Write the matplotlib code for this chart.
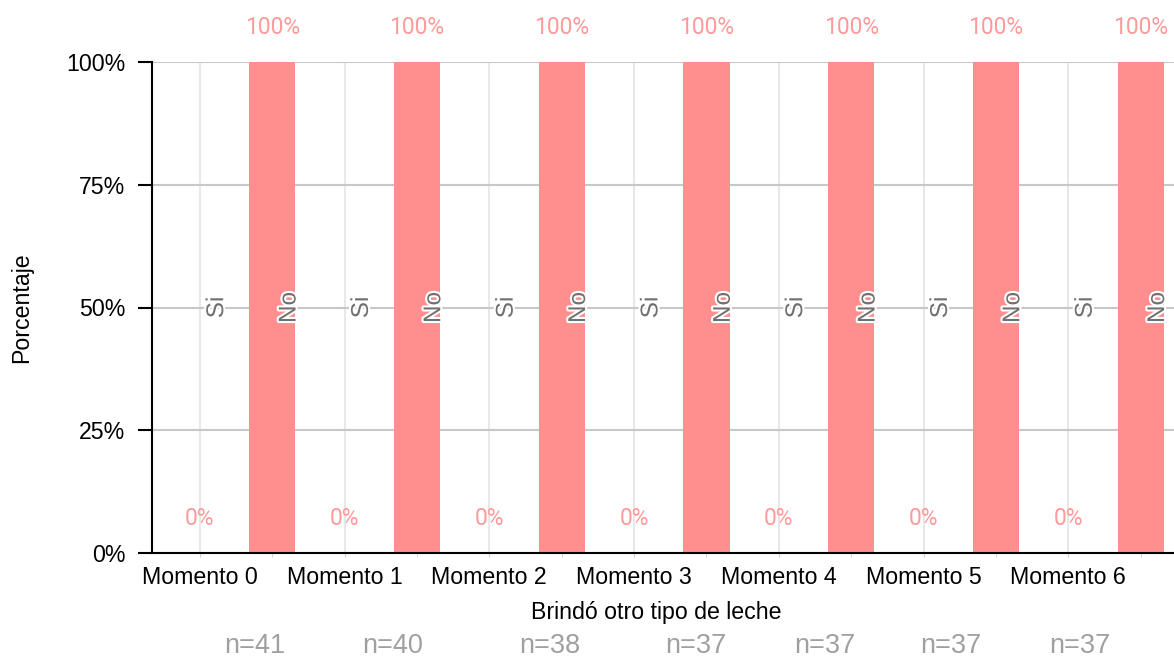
import numpy as np
import matplotlib.pyplot as plt
import matplotlib.patheffects as pe

momentos = ["Momento 0", "Momento 1", "Momento 2", "Momento 3",
            "Momento 4", "Momento 5", "Momento 6"]
categorias = ["Si", "No"]
pct_si = [0, 0, 0, 0, 0, 0, 0]
pct_no = [100, 100, 100, 100, 100, 100, 100]
n_labels = ["n=41", "n=40", "n=38", "n=37", "n=37", "n=37", "n=37"]
n_pos = [0.38, 1.33, 2.42, 3.43, 4.32, 5.19, 6.08]

bar_col = "#ff8f8f"
lab_col = "#ff9a9a"
font = "Liberation Sans"

fig = plt.figure(figsize=(11.74, 6.62), dpi=100)
ax = fig.add_axes([152 / 1174, 109 / 662, 1 - 152 / 1174, 491 / 662])

x = np.arange(len(momentos))
xs = x
xn = x + 0.5
w = 0.32

ax.bar(xs, pct_si, width=w, color=bar_col, zorder=2)
ax.bar(xn, pct_no, width=w, color=bar_col, zorder=2)

outline = [pe.withStroke(linewidth=3, foreground="white")]
for i in range(len(momentos)):
    # value labels
    for xp, v in ((xs[i], pct_si[i]), (xn[i], pct_no[i])):
        yv = v + 7 if v > 0 else 7
        ax.text(xp, yv, f"{v}%", ha="center", va="center", color=lab_col,
                fontsize=16.5, family="Roboto", clip_on=False)
    # category labels
    for xp, c in ((xs[i], categorias[0]), (xn[i], categorias[1])):
        ax.text(xp + 0.12, 50, c, rotation=90, ha="center", va="center",
                color="#707070", fontsize=17.5, family=font,
                path_effects=outline, zorder=4)

for xp, t in zip(n_pos, n_labels):
    ax.text(xp, -19, t, ha="center", va="center", color="#a0a0a0",
            fontsize=19.5, family=font, clip_on=False)

ax.set_xlim(-0.33, 6.73)
ax.set_ylim(0, 100)
ax.set_yticks([0, 25, 50, 75, 100])
ax.set_yticklabels(["0%", "25%", "50%", "75%", "100%"])
ax.set_xticks(xs)
ax.set_xticklabels(momentos)
ax.set_xticks(xn, minor=True)

ax.grid(axis="y", color="#c8c8c8", lw=1.5, zorder=0)
for xp in xs:
    ax.axvline(xp, color="#e8e8e8", lw=1.5, zorder=0)

for s in ("top", "right"):
    ax.spines[s].set_visible(False)
ax.spines["left"].set_linewidth(1.5)
ax.spines["bottom"].set_linewidth(1.5)
ax.tick_params(axis="y", length=10, width=1.5, labelsize=16.7, pad=9)
ax.tick_params(axis="x", which="both", length=3, color="#d0d0d0",
               labelsize=16.7, pad=6)

for lab in ax.get_xticklabels() + ax.get_yticklabels():
    lab.set_family(font)

ax.set_xlabel("Brindó otro tipo de leche", fontsize=16.7, family=font)
ax.xaxis.set_label_coords(0.493, -0.097)
ax.set_ylabel("Porcentaje", fontsize=16.7, family=font, labelpad=24)

fig.savefig("out.png", dpi=100)
